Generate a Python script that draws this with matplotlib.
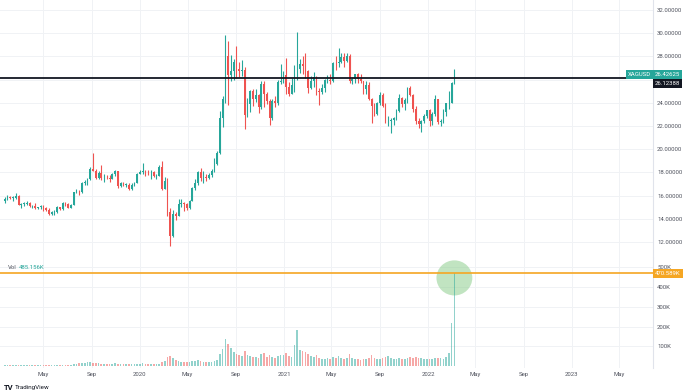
import numpy as np
import pandas as pd
import matplotlib
matplotlib.use("Agg")
import matplotlib.pyplot as plt
import matplotlib.dates as mdates
from matplotlib.patches import Ellipse
from matplotlib.transforms import blended_transform_factory

plt.rcParams['font.family'] = ['Roboto', 'DejaVu Sans']

# weekly XAGUSD candles (week ending Friday)
week_end = pd.date_range("2019-01-25", periods=164, freq="W-FRI")
first_open = 15.55
close = [
    # 2019
    15.75, 15.90, 15.80, 15.80, 16.00, 15.20, 15.30, 15.30, 15.40, 15.10,
    15.10, 14.95, 14.98, 15.10, 14.95, 14.80, 14.40, 14.55, 14.55, 15.00,
    14.85, 15.35, 15.25, 14.95, 15.20, 16.30, 16.35, 16.30, 17.10, 17.10,
    17.40, 18.30, 18.15, 17.50, 17.95, 17.50, 17.55, 17.50, 17.45, 17.85,
    18.10, 16.80, 17.05, 16.95, 16.95, 16.55, 16.95, 17.10, 17.90,
    # 2020
    18.05, 18.10, 18.05, 18.00, 18.00, 17.70, 17.70, 18.50, 16.60, 17.30,
    14.60, 12.50, 14.45, 14.25, 15.30, 15.35, 15.25, 14.95, 15.55, 16.65,
    17.10, 18.05, 17.50, 17.60, 17.55, 17.75, 18.10, 18.70, 19.70, 22.70,
    24.35, 28.00, 26.40, 26.70, 27.50, 26.90, 26.70, 26.80, 22.95, 23.90,
    25.00, 24.35, 24.65, 23.65, 25.65, 24.75, 24.15, 22.65, 24.15, 23.95,
    25.80, 25.85,
    # 2021
    26.40, 25.40, 24.80, 25.50, 26.90, 26.90, 27.35, 27.20, 26.70, 25.25,
    25.90, 26.25, 25.00, 24.95, 25.25, 25.95, 26.00, 25.90, 27.45, 27.40,
    27.55, 27.95, 27.60, 28.00, 25.85, 26.05, 26.45, 26.05, 25.85, 25.20,
    25.55, 24.35, 23.70, 23.05, 24.00, 24.70, 23.75, 22.40, 22.40, 22.55,
    22.65, 23.30, 24.40, 23.90, 24.20, 25.25, 24.70, 23.45, 22.45, 22.20,
    22.40, 22.90, 23.35,
    # 2022
    22.40, 23.00, 24.35, 22.35, 22.45, 23.20, 23.95, 24.00, 25.70, 26.43,
]
high = [
    15.85, 16.05, 15.98, 15.95, 16.20, 16.05, 15.35, 15.45, 15.55, 15.45,
    15.20, 15.40, 15.05, 15.20, 15.15, 15.00, 14.90, 14.65, 14.75, 15.10,
    15.05, 15.45, 15.45, 15.35, 15.30, 16.35, 16.55, 16.50, 17.20, 17.35,
    17.50, 18.45, 19.65, 18.30, 18.15, 18.60, 17.85, 17.80, 17.75, 17.95,
    18.20, 18.15, 17.20, 17.15, 17.05, 17.05, 17.05, 17.20, 17.95,
    18.25, 18.85, 18.20, 18.20, 18.25, 18.10, 17.85, 18.60, 18.95, 17.60,
    17.50, 14.90, 14.75, 14.55, 15.75, 15.70, 15.45, 15.40, 15.65, 16.75,
    17.40, 18.10, 18.40, 18.10, 17.85, 17.95, 18.30, 19.25, 19.85, 23.30,
    24.60, 29.85, 29.30, 28.10, 27.80, 28.90, 27.50, 27.70, 27.10, 24.40,
    25.10, 25.20, 25.20, 24.75, 25.85, 25.90, 24.90, 24.30, 24.30, 24.60,
    26.00, 27.35,
    26.70, 27.90, 25.80, 26.10, 27.30, 30.10, 27.80, 28.00, 28.30, 26.80,
    26.30, 26.65, 26.30, 25.25, 25.60, 26.05, 26.40, 26.50, 27.50, 28.00,
    28.75, 28.30, 28.30, 28.30, 28.20, 26.20, 26.50, 26.55, 26.45, 25.90,
    25.85, 25.80, 24.40, 23.95, 24.10, 24.90, 24.85, 24.00, 22.90, 22.70,
    22.75, 23.45, 24.80, 24.50, 24.40, 25.40, 25.45, 24.75, 23.70, 22.70,
    22.55, 23.05, 23.40,
    23.45, 23.20, 24.70, 24.35, 22.60, 23.45, 24.00, 25.00, 25.80, 26.95,
]
low = [
    15.40, 15.65, 15.70, 15.55, 15.75, 15.15, 14.90, 15.10, 15.20, 15.00,
    14.95, 14.85, 14.85, 14.85, 14.70, 14.70, 14.30, 14.30, 14.35, 14.50,
    14.75, 14.75, 15.10, 14.90, 14.95, 15.15, 16.20, 16.05, 16.25, 16.90,
    16.95, 17.35, 18.10, 17.40, 17.45, 17.35, 17.15, 17.40, 17.20, 17.40,
    17.70, 16.65, 16.70, 16.85, 16.70, 16.50, 16.50, 16.85, 17.05,
    17.85, 17.90, 17.70, 17.80, 17.40, 17.60, 17.45, 17.65, 16.45, 16.55,
    14.20, 11.64, 12.40, 13.90, 14.20, 15.05, 14.65, 14.75, 14.85, 15.50,
    16.50, 16.95, 17.30, 17.10, 17.30, 17.45, 17.60, 18.05, 18.65, 19.60,
    21.90, 24.00, 23.80, 25.90, 26.00, 26.10, 26.20, 26.30, 21.70, 22.75,
    23.20, 23.70, 24.10, 23.10, 23.45, 23.60, 23.90, 22.10, 22.55, 23.60,
    23.85, 25.60,
    25.70, 24.80, 24.60, 24.75, 24.90, 26.00, 26.60, 26.50, 26.15, 24.85,
    25.20, 25.40, 24.70, 23.80, 24.80, 24.90, 25.70, 25.60, 25.80, 26.80,
    27.10, 27.40, 27.10, 27.50, 25.70, 25.60, 25.75, 25.75, 25.75, 24.80,
    24.80, 24.20, 22.30, 22.90, 22.95, 23.80, 23.60, 22.30, 22.00, 21.40,
    22.10, 22.50, 23.20, 23.60, 23.35, 23.95, 24.55, 23.20, 22.15, 21.85,
    21.45, 22.30, 22.70,
    22.00, 22.10, 22.90, 22.20, 22.00, 22.30, 22.90, 23.50, 23.95, 25.60,
]
volume_k = [
    5, 5, 4, 5, 6, 5, 5, 4, 5, 4, 4, 5, 4, 4, 5, 5, 6, 5, 5, 6, 5, 6, 5,
    6, 7, 12, 10, 14, 16, 15, 20, 22, 16, 14, 13, 12, 10, 11, 10, 12, 14,
    11, 10, 10, 9, 8, 9, 10, 11,
    12, 14, 11, 10, 12, 10, 9, 12, 18, 25, 48, 52, 40, 30, 28, 22, 20,
    18, 22, 28, 25, 30, 26, 22, 20, 18, 20, 24, 30, 60, 85, 137, 110, 90, 70,
    60, 55, 50, 75, 55, 50, 45, 48, 40, 60, 65, 45, 55, 45, 42, 50, 55,
    55, 65, 50, 45, 105, 183, 80, 75, 70, 60, 50, 45, 55, 40, 38, 35, 40, 38,
    45, 40, 50, 42, 38, 40, 60, 40, 35, 38, 32, 36, 34, 40, 55, 40, 35,
    36, 40, 45, 50, 40, 36, 38, 40, 35, 38, 42, 45, 40, 45, 42, 40, 38, 35,
    35, 38, 40, 42, 40, 38, 45, 65, 220, 470.589,
]

symbol = "XAGUSD"
last_price = 26.42625
level = 26.12388
vol_level_k = 470.589
vol_now = "485.156K"
price_ticks = [12, 14, 16, 18, 20, 22, 24, 26, 28, 30, 32]
vol_ticks_k = [100, 200, 300, 400, 500]

UP = "#26a69a"
DOWN = "#ef5350"
GRID = "#f0f2f5"
TXT = "#50535e"

open_ = [first_open] + close[:-1]
x = mdates.date2num(week_end - pd.Timedelta(days=2))
o = np.array(open_)
c = np.array(close)
up = c >= o
colors = np.where(up, UP, DOWN)

fig = plt.figure(figsize=(6.9, 3.9), dpi=100)
W, H = 690, 390
ax = fig.add_axes([0, 1 - 258 / H, 653 / W, 258 / H])
axv = fig.add_axes([0, 22 / H, 653 / W, 110 / H], sharex=ax)

# price candles
ax.vlines(x, low, high, colors=colors, lw=0.8, zorder=3)
body_h = np.maximum(np.abs(c - o), 0.04)
ax.bar(x, body_h, bottom=np.minimum(o, c), width=4.2, color=colors,
       lw=0, zorder=4)
ax.axhline(level, color="#131722", lw=1.3, zorder=5)

ax.set_ylim(32 - 248 / 11.6, 32 + 10 / 11.6)
ax.set_xlim(mdates.date2num(pd.Timestamp("2019-01-11")),
            mdates.date2num(pd.Timestamp("2023-07-26")))
ax.set_yticks(price_ticks)
# the 26 label sits under the last-price / level labels
ax.set_yticklabels(["" if v == 26 else f"{v:.5f}" for v in price_ticks])
ax.yaxis.tick_right()
ax.tick_params(axis="y", length=0, pad=3, labelsize=4.3, labelcolor=TXT)
ax.tick_params(axis="x", length=0, labelbottom=False)

# volume
vcols = [(0.149, 0.651, 0.604, 0.5) if u else (0.937, 0.325, 0.314, 0.5)
         for u in up]
axv.bar(x, volume_k, width=4.2, color=vcols, lw=0, zorder=3)
axv.axhline(vol_level_k, color="#f5a623", lw=1.2, zorder=5)
axv.set_ylim(-10, 548)
axv.set_yticks(vol_ticks_k)
axv.set_yticklabels([f"{v}K" for v in vol_ticks_k])
axv.yaxis.tick_right()
axv.tick_params(axis="y", length=0, pad=3, labelsize=4.3, labelcolor=TXT)

tick_dates = pd.date_range("2019-05-01", "2023-05-01", freq="4MS")
axv.set_xticks(mdates.date2num(tick_dates))
axv.set_xticklabels([str(d.year) if d.month == 1 else d.strftime("%b")
                     for d in tick_dates])
axv.tick_params(axis="x", length=0, pad=3, labelsize=4.3, labelcolor=TXT)

for a in (ax, axv):
    a.grid(True, color=GRID, lw=0.7, zorder=0)
    a.set_axisbelow(True)
    for s in ("top", "left", "bottom"):
        a.spines[s].set_visible(False)
    a.spines["right"].set_color("#e0e3eb")
    a.spines["right"].set_linewidth(0.8)
ax.spines["bottom"].set_visible(True)
ax.spines["bottom"].set_color("#e6e8ee")
ax.spines["bottom"].set_linewidth(0.6)

# circle around the volume spike
ell = Ellipse((x[-1], 447), width=91, height=178, facecolor="#8fcf8f",
              edgecolor="none", alpha=0.55, clip_on=False, zorder=2)
axv.add_patch(ell)

# price-scale labels
tp = blended_transform_factory(ax.transAxes, ax.transData)
box = dict(boxstyle="square,pad=0.3", lw=0)
ax.annotate(f"{last_price:.5f}", xy=(1, last_price), xycoords=tp,
            xytext=(1.5, 0), textcoords="offset points", va="center",
            ha="left", fontsize=4.3, color="white",
            bbox=dict(box, fc=UP), annotation_clip=False, zorder=10)
ax.annotate(symbol, xy=(1, last_price), xycoords=tp, xytext=(-1.5, 0),
            textcoords="offset points", va="center", ha="right",
            fontsize=4.3, color="white", bbox=dict(box, fc=UP),
            annotation_clip=False, zorder=10)
ax.annotate(f"{level:.5f}", xy=(1, level), xycoords=tp, xytext=(1.5, -3.9),
            textcoords="offset points", va="center", ha="left", fontsize=4.3,
            color="white", bbox=dict(box, fc="#131722"),
            annotation_clip=False, zorder=10)
tv = blended_transform_factory(axv.transAxes, axv.transData)
axv.annotate(f"{vol_level_k:.3f}K", xy=(1, vol_level_k), xycoords=tv,
             xytext=(1.5, 0), textcoords="offset points", va="center",
             ha="left", fontsize=4.3, color="white",
             bbox=dict(box, fc="#f5a623"), annotation_clip=False, zorder=10)

axv.text(8 / 653, 0.918, "Vol", transform=axv.transAxes, fontsize=4.3,
         color=TXT, va="center")
axv.text(19 / 653, 0.918, vol_now, transform=axv.transAxes, fontsize=4.3,
         color=UP, va="center")

fig.text(4 / W, 1 - 387 / H, "TV", fontsize=5.5, weight="bold",
         color="#131722", va="center")
fig.text(15 / W, 1 - 387 / H, "TradingView", fontsize=4.5,
         color="#131722", va="center")

fig.savefig("out.png", dpi=100, facecolor="white")
